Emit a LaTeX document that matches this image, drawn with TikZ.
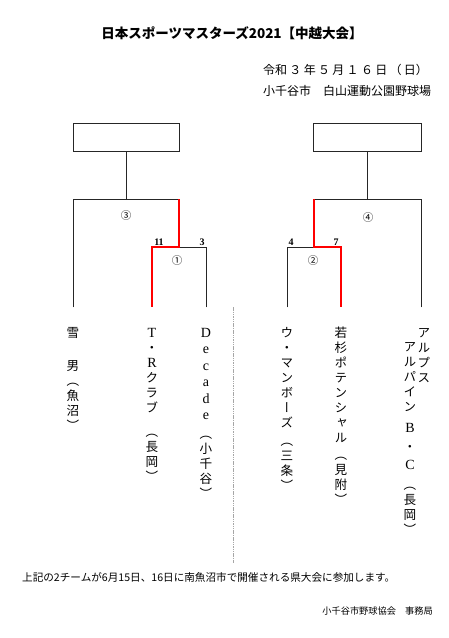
\documentclass[tikz,border=0pt]{standalone}
\usepackage{fontspec}
\setmainfont{Liberation Serif}
\newfontfamily\jp{Noto Sans CJK JP}
\newfontfamily\jpv[RawFeature={+vert}]{Noto Sans CJK JP}
\newfontfamily\lat{Liberation Serif}
\newcommand{\latc}[1]{{\lat\fontsize{14}{15}\selectfont #1}}
\newcommand{\firstln}{\vphantom{雪}}
\begin{document}
\begin{tikzpicture}[x=1pt,y=-1pt,
  blk/.style={line width=0.9pt, black!85, line cap=rect},
  win/.style={line width=2pt, red, line join=miter},
  hdr/.style={draw=black!85, line width=0.9pt, minimum width=106pt, minimum height=28pt, inner sep=0pt},
  team/.style={font=\jpv\fontsize{12.6}{15}\selectfont, align=center, anchor=north, inner sep=0pt},
  rnd/.style={font=\jp\fontsize{10.5}{10.5}\selectfont, inner sep=0pt},
  score/.style={font=\lat\bfseries\fontsize{10}{10}\selectfont, anchor=base, inner sep=0pt}]
\useasboundingbox (0,0) rectangle (448,638);

% headings
\node[font=\jp\bfseries\fontsize{13.5}{14}\selectfont, inner sep=0pt] (title) at (232,33) {日本スポーツマスターズ2021【中越大会】};
\node[font=\jp\fontsize{12}{14}\selectfont, anchor=west, inner sep=0pt] (date) at (263,70)
  {令和\hspace{2.3pt}３\hspace{2.3pt}年\hspace{2.3pt}５\hspace{2.3pt}月\hspace{2.3pt}１\hspace{2.3pt}６\hspace{2.3pt}日\hspace{2.3pt}（\hspace{2.3pt}日）};
\node[font=\jp\fontsize{12}{14}\selectfont, anchor=west, inner sep=0pt] (venue) at (263,91) {小千谷市　白山運動公園野球場};

% header boxes
\node[hdr] (boxL) at (126,137) {};
\node[hdr, minimum width=108pt] (boxR) at (367,137) {};

% left bracket points
\coordinate (L3) at (126,199);
\coordinate (LA) at (73,199);
\coordinate (LB) at (179,199);
\coordinate (L1) at (179,247);
\coordinate (L1a) at (152,247);
\coordinate (L1b) at (206,247);
\coordinate (e1) at (73,307);
\coordinate (e2) at (152,307);
\coordinate (e3) at (206,307);

% right bracket points
\coordinate (R4) at (367,199);
\coordinate (RA) at (314,199);
\coordinate (RB) at (421,199);
\coordinate (R2) at (314,247);
\coordinate (R2a) at (287,247);
\coordinate (R2b) at (341,247);
\coordinate (f1) at (287,307);
\coordinate (f2) at (341,307);
\coordinate (f3) at (421,307);

% black lines
\draw[blk] (boxL.south) -- (L3);
\draw[blk] (e1) -- (LA) -- (LB);
\draw[blk] (L1) -- (L1b) -- (e3);
\draw[blk] (boxR.south) -- (R4);
\draw[blk] (RA) -- (RB) -- (f3);
\draw[blk] (R2) -- (R2a) -- (f1);
% winners
\draw[win] (LB) -- (L1) -- (L1a) -- (e2);
\draw[win] (RA) -- (R2) -- (R2b) -- (f2);

% round labels
\node[rnd] (r3) at (126,216) {③};
\node[rnd] (r1) at (177,261) {①};
\node[rnd] (r4) at (368,218) {④};
\node[rnd] (r2) at (313,261) {②};

% scores
\node[score] (s11) at (159,245.5) {11};
\node[score] (s3) at (202,245.5) {3};
\node[score] (s4) at (291,245.5) {4};
\node[score] (s7) at (336,245.5) {7};

% centre divider
\draw[black!35, line width=0.8pt, dash pattern=on 1.5pt off 0.8pt] (233,307) -- (233,563);

% teams
\node[team] (tL1) at (73,327) {\firstln 雪\\[18pt]男\\（\\魚\\沼\\）};
\node[team] (tL2) at (152,327) {\firstln\latc{T}\\・\\\latc{R}\\ク\\ラ\\ブ\\[9pt]（\\長\\岡\\）};
\node[team] (tL3) at (206,327) {\firstln\latc{D}\\[1.5pt]\latc{e}\\[1.5pt]\latc{c}\\[1.5pt]\latc{a}\\[1.5pt]\latc{d}\\[1.5pt]\latc{e}\\[4pt]（\\小\\千\\谷\\）};
\node[team] (tR1) at (287,327) {\firstln ウ\\・\\マ\\ン\\ボ\\ー\\ズ\\[3pt]（\\三\\条\\）};
\node[team] (tR2) at (341,327) {\firstln 若\\杉\\ポ\\テ\\ン\\シ\\ャ\\ル\\[2pt]（\\見\\附\\）};
\node[team] (tR3a) at (424,327) {\firstln ア\\ル\\プ\\ス};
\node[team] (tR3b) at (410,341) {\firstln ア\\ル\\パ\\イ\\ン\\[6pt]\latc{B}\\[4pt]・\\[3pt]\latc{C}\\[5pt]（\\長\\岡\\）};

% footer
\node[font=\jp\fontsize{10.6}{12}\selectfont, anchor=west, inner sep=0pt] (note) at (22,577) {上記の2チームが6月15日、16日に南魚沼市で開催される県大会に参加します。};
\node[font=\jp\fontsize{9.2}{11}\selectfont, anchor=east, inner sep=0pt] (office) at (433,611) {小千谷市野球協会　事務局};
\end{tikzpicture}
\end{document}
